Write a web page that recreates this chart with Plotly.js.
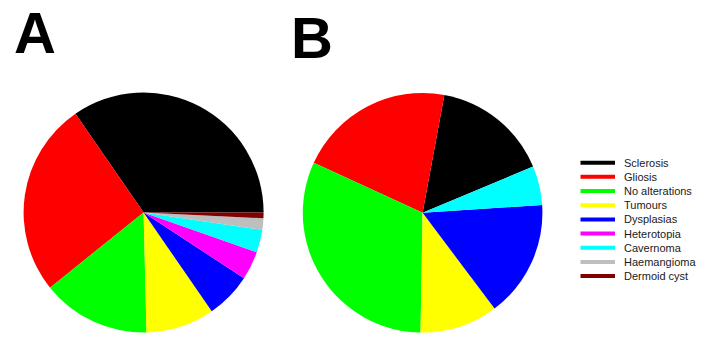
<!DOCTYPE html>
<html>
<head>
<meta charset="utf-8">
<script src="https://cdn.plot.ly/plotly-3.0.1.min.js"></script>
<style>html,body{margin:0;padding:0;background:#fff;}#chart{width:709px;height:357px;}</style>
</head>
<body>
<div id="chart"></div>
<script>
// Categories (legend order)
const categories = ["Sclerosis", "Gliosis", "No alterations", "Tumours", "Dysplasias",
                    "Heterotopia", "Cavernoma", "Haemangioma", "Dermoid cyst"];
const colors = ["#000000", "#ff0000", "#00ff00", "#ffff00", "#0000ff",
                "#ff00ff", "#00ffff", "#bebebe", "#800000"];
// Panel A counts
const valuesA = [45, 34, 19, 12, 8, 5, 4, 2, 1];
// Panel B counts
const categoriesB = ["Sclerosis", "Gliosis", "No alterations", "Tumours", "Dysplasias", "Cavernoma"];
const valuesB = [3, 4, 6, 2, 3, 1];
const panelLabels = ["A", "B"];

const W = 709, H = 357;
const px = x => x / W;
const py = y => 1 - y / H;

function colorOf(c) { return colors[categories.indexOf(c)]; }
function sum(a) { return a.reduce((s, v) => s + v, 0); }

function pieDomain(cx, cy, r) {
  return { x: [px(cx - r), px(cx + r)], y: [py(cy + r), py(cy - r)] };
}
// Plotly places the first slice clockwise of 'rotation' when direction is counterclockwise,
// so shift so that the first slice starts at the given angle (degrees CCW from 3 o'clock).
function rot(startCCW, vals) {
  return (90 - startCCW) - 360 * vals[0] / sum(vals);
}

const traces = [
  {
    type: "pie", labels: categories, values: valuesA, sort: false,
    direction: "counterclockwise", rotation: rot(0, valuesA),
    marker: { colors: categories.map(colorOf), line: { width: 0 } },
    textinfo: "none", hoverinfo: "label+value", showlegend: false,
    domain: pieDomain(143.6, 212.5, 120)
  },
  {
    type: "pie", labels: categoriesB, values: valuesB, sort: false,
    direction: "counterclockwise", rotation: rot(22.7, valuesB),
    marker: { colors: categoriesB.map(colorOf), line: { width: 0 } },
    textinfo: "none", hoverinfo: "label+value", showlegend: false,
    domain: pieDomain(422.6, 212.8, 119.8)
  }
];

// Custom legend (line swatches + labels)
const shapes = [], annotations = [];
const legTop = 162.7, legStep = 14.17;
categories.forEach((c, i) => {
  const y = legTop + i * legStep;
  shapes.push({ type: "line", xref: "paper", yref: "paper",
    x0: px(580.5), x1: px(615), y0: py(y), y1: py(y),
    line: { color: colors[i], width: 4 } });
  annotations.push({ xref: "paper", yref: "paper", x: px(622), y: py(y),
    xanchor: "left", yanchor: "middle", showarrow: false, text: c,
    font: { family: "Liberation Sans, Arial, sans-serif", size: 11, color: "#1a1a1a" } });
});
// Panel letters
annotations.push({ xref: "paper", yref: "paper", x: px(12), y: py(32), xanchor: "left", yanchor: "middle",
  showarrow: false, text: "<b>" + panelLabels[0] + "</b>",
  font: { family: "Liberation Sans, Arial, sans-serif", size: 58, color: "#000" } });
annotations.push({ xref: "paper", yref: "paper", x: px(288.5), y: py(38), xanchor: "left", yanchor: "middle",
  showarrow: false, text: "<b>" + panelLabels[1] + "</b>",
  font: { family: "Liberation Sans, Arial, sans-serif", size: 58, color: "#000" } });

const layout = {
  width: W, height: H,
  margin: { l: 0, r: 0, t: 0, b: 0 },
  paper_bgcolor: "#ffffff", plot_bgcolor: "#ffffff",
  showlegend: false,
  shapes: shapes, annotations: annotations
};

Plotly.newPlot("chart", traces, layout, { displayModeBar: false, staticPlot: true });
</script>
</body>
</html>
